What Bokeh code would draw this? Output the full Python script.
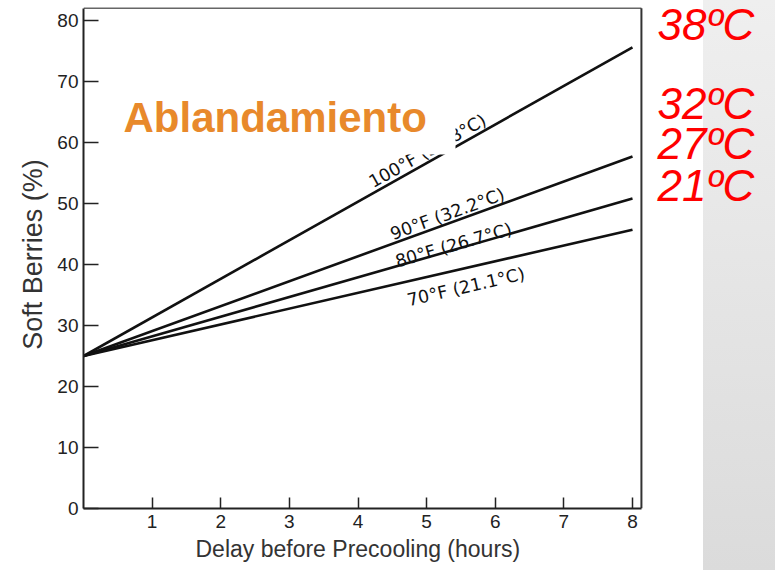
import math
from bokeh.plotting import figure
from bokeh.models import FixedTicker, Label, BoxAnnotation, ColumnDataSource, Title
from bokeh.core.properties import value
from bokeh.embed import file_html
from bokeh.resources import INLINE

# ---- data ----
delay_hours = [0, 8]
soft_100F = [25.0, 75.6]
soft_90F = [25.0, 57.7]
soft_80F = [25.0, 50.8]
soft_70F = [25.0, 45.7]
series_labels = ["100°F (37.8°C)", "90°F (32.2°C)", "80°F (26.7°C)", "70°F (21.1°C)"]
celsius_labels = ["38ºC", "32ºC", "27ºC", "21ºC"]
x_ticks = [1, 2, 3, 4, 5, 6, 7, 8]
y_ticks = [0, 10, 20, 30, 40, 50, 60, 70, 80]
x_axis_end = 8.13
y_axis_end = 82.0
x_label = "Delay before Precooling (hours)"
y_label = "Soft Berries (%)"

# ---- layout ----
W, H = 775, 570
FL, FB = 83, 62
px_x = 68.625
px_y = 6.1
x_end = (W - FL) / px_x
y_end = (H - FB) / px_y

def dx(px):
    return (px - FL) / px_x

def dy(py):
    return (H - FB - py) / px_y

p = figure(width=W, height=H, output_backend="svg", toolbar_location=None,
           x_range=(0, x_end), y_range=(0, y_end),
           min_border_left=FL, min_border_right=0, min_border_top=0, min_border_bottom=FB)
p.styles = {"background": "linear-gradient(to right, #ffffff 703px, rgba(255,255,255,0) 703px), "
                          "linear-gradient(to bottom, #efefef, #dbdbdb)"}
p.grid.visible = False
p.background_fill_color = None
p.border_fill_color = None
p.outline_line_color = None

for ax in (p.xaxis[0], p.yaxis[0]):
    ax.axis_line_color = "#222222"
    ax.axis_line_width = 2
    ax.major_tick_line_color = "#222222"
    ax.major_tick_line_width = 1.5
    ax.major_tick_out = 0
    ax.minor_tick_line_color = None
    ax.major_label_text_font = "Liberation Sans"
    ax.major_label_text_font_size = "19px"
    ax.major_label_text_color = "#222222"
    ax.axis_label_text_font = "Liberation Sans"
    ax.axis_label_text_font_style = "normal"
    ax.axis_label_text_color = "#333333"

p.xaxis.bounds = (0, x_axis_end)
p.yaxis.bounds = (0, y_axis_end)
p.xaxis.ticker = FixedTicker(ticks=x_ticks)
p.yaxis.ticker = FixedTicker(ticks=y_ticks)
p.xaxis.major_tick_in = 11
p.yaxis.major_tick_in = 15
p.xaxis.major_label_standoff = 6
p.yaxis.major_label_standoff = 5
p.yaxis.axis_label = y_label
p.yaxis.axis_label_text_font_size = "27px"
p.yaxis.axis_label_standoff = 6

xt = Title(text=x_label, align="left", offset=112, text_font="Liberation Sans",
           text_font_size="23px", text_font_style="normal", text_color="#333333", standoff=6)
p.add_layout(xt, "below")

# frame: top and right edges
p.line([0, x_axis_end], [y_axis_end, y_axis_end], line_color="#666666", line_width=1.4)
p.line([x_axis_end, x_axis_end], [0, y_axis_end], line_color="#333333", line_width=2)

series = [soft_100F, soft_90F, soft_80F, soft_70F]
for s in series:
    p.line(delay_hours, s, line_color="#111111", line_width=2.6)

# line labels
label_x = [4.18, 4.48, 4.55, 4.72]
label_dy = [1.9, 1.6, 0.8, -3.1]
lx, ly, la = [], [], []
for s, x0, d in zip(series, label_x, label_dy):
    slope = (s[1] - s[0]) / (delay_hours[1] - delay_hours[0])
    lx.append(x0)
    ly.append(s[0] + slope * x0 + d)
    la.append(math.atan(slope * px_y / px_x))
src = ColumnDataSource(dict(x=lx, y=ly, t=series_labels, a=la))
p.text(x="x", y="y", text="t", angle="a", source=src, text_font=value("DejaVu Sans"),
       text_font_size="17.5px", text_color="#111111", text_baseline="alphabetic", text_align="left")

# white text box of the title covering part of the 100F label
wb = BoxAnnotation(left=dx(110), right=dx(455), bottom=dy(154), top=dy(88),
                   fill_color="white", fill_alpha=1, line_color=None)
p.add_layout(wb)

p.add_layout(Label(x=dx(123), y=dy(133 - 16), text="Ablandamiento",
                   text_font="Liberation Sans", text_font_style="bold", text_font_size="42px",
                   text_color="#E8892B", text_baseline="alphabetic"))

cel_py = [39, 118, 158, 200]
for t, yy in zip(celsius_labels, cel_py):
    p.add_layout(Label(x=dx(657), y=dy(yy - 15.5), text=t, text_font="Liberation Sans",
                       text_font_style="italic", text_font_size="44px", text_color="#FF0000",
                       text_baseline="alphabetic"))

open("out.html", "w").write(file_html(p, INLINE))
